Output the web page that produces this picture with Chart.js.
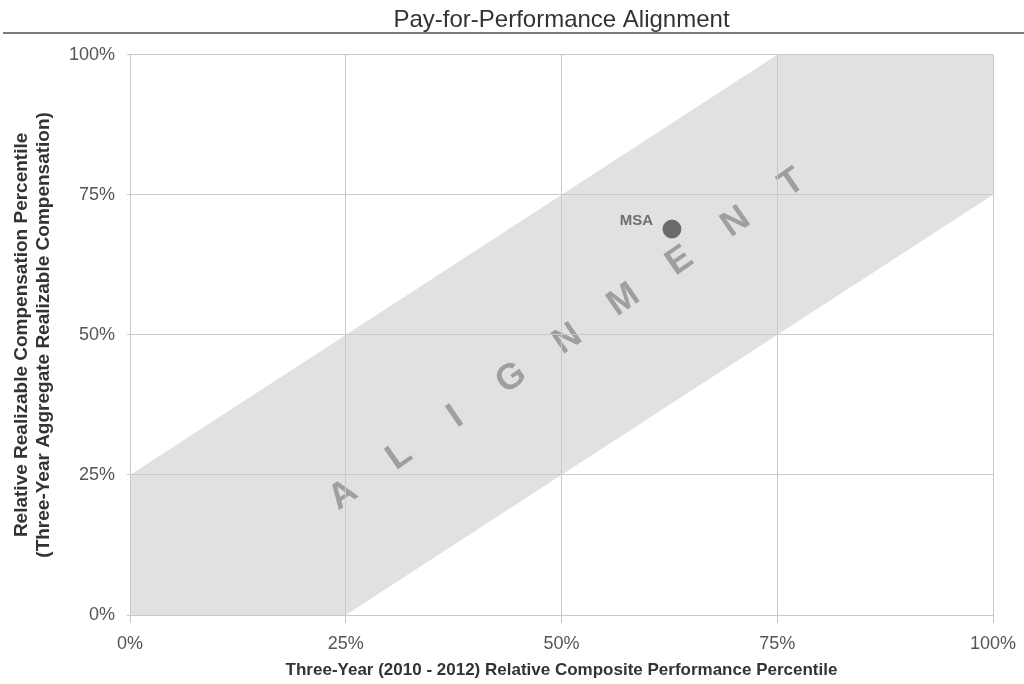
<!DOCTYPE html>
<html>
<head>
<meta charset="utf-8">
<script src="https://cdn.jsdelivr.net/npm/chart.js@4"></script>
<style>
  html, body { margin: 0; padding: 0; background: #fff; }
  #wrap { width: 1024px; height: 684px; }
</style>
</head>
<body>
<div id="wrap"><canvas id="myChart"></canvas></div>
<script>
// band edges and the company point
var bandLowX = [0, 25, 100];
var bandLowY = [0, 0, 75];
var bandHighX = [0, 75, 100];
var bandHighY = [25, 100, 100];
var companyName = "MSA";
var companyX = 62.8;
var companyY = 68.9;
var tickValues = [0, 25, 50, 75, 100];
var bandWord = "ALIGNMENT";
var wordStart = [24.7, 21.4];
var wordEnd = [76.7, 77.1];

var lowPts = bandLowX.map(function (x, i) { return { x: x, y: bandLowY[i] }; });
var highPts = bandHighX.map(function (x, i) { return { x: x, y: bandHighY[i] }; });

var extras = {
  id: "extras",
  afterDatasetsDraw: function (chart) {
    var ctx = chart.ctx;
    var xs = chart.scales.x, ys = chart.scales.y;
    // big rotated word along the band
    var x0 = xs.getPixelForValue(wordStart[0]), y0 = ys.getPixelForValue(wordStart[1]);
    var x1 = xs.getPixelForValue(wordEnd[0]), y1 = ys.getPixelForValue(wordEnd[1]);
    var ang = Math.atan2(y1 - y0, x1 - x0);
    ctx.save();
    ctx.fillStyle = "#9f9fa1";
    ctx.font = "bold 36px 'Liberation Sans', Arial, sans-serif";
    ctx.textAlign = "center";
    ctx.textBaseline = "middle";
    var n = bandWord.length;
    for (var i = 0; i < n; i++) {
      var t = i / (n - 1);
      ctx.save();
      ctx.translate(x0 + (x1 - x0) * t, y0 + (y1 - y0) * t);
      ctx.rotate(ang);
      ctx.fillText(bandWord[i], 0, 0);
      ctx.restore();
    }
    // point label
    var px = xs.getPixelForValue(companyX), py = ys.getPixelForValue(companyY);
    ctx.fillStyle = "#6e6e70";
    ctx.font = "bold 15px 'Liberation Sans', Arial, sans-serif";
    ctx.textAlign = "right";
    ctx.textBaseline = "middle";
    ctx.fillText(companyName, px - 19, py - 8);
    ctx.restore();
  },
  afterDraw: function (chart) {
    var ctx = chart.ctx;
    ctx.save();
    ctx.strokeStyle = "#7a7a7a";
    ctx.lineWidth = 2;
    ctx.beginPath();
    ctx.moveTo(3, 33);
    ctx.lineTo(1024, 33);
    ctx.stroke();
    ctx.restore();
  }
};

new Chart("myChart", {
  type: "scatter",
  data: {
    datasets: [
      {
        label: "low",
        data: lowPts,
        showLine: true,
        borderWidth: 0,
        pointRadius: 0,
        fill: false,
        order: 3
      },
      {
        label: "high",
        data: highPts,
        showLine: true,
        borderWidth: 0,
        pointRadius: 0,
        backgroundColor: "#e1e1e3",
        fill: "-1",
        order: 2
      },
      {
        label: companyName,
        data: [{ x: companyX, y: companyY }],
        pointRadius: 9,
        pointHoverRadius: 9,
        backgroundColor: "#6a6a6c",
        borderColor: "#6a6a6c",
        order: 1
      }
    ]
  },
  options: {
    responsive: true,
    maintainAspectRatio: false,
    animation: false,
    layout: { padding: { left: 0, right: 31, top: 0, bottom: 0 } },
    plugins: {
      legend: { display: false },
      tooltip: { enabled: false },
      title: {
        display: true,
        fullSize: false,
        text: "Pay-for-Performance Alignment",
        color: "#333",
        font: { family: "'Liberation Sans', Arial, sans-serif", size: 24, weight: "normal" },
        padding: { top: 6, bottom: 20 }
      }
    },
    scales: {
      x: {
        type: "linear",
        min: 0,
        max: 100,
        afterBuildTicks: function (s) { s.ticks = tickValues.map(function (v) { return { value: v }; }); },
        afterFit: function (s) { s.height = 69; s.paddingRight = 0; s.paddingLeft = 0; },
        grid: { color: "#c9c9c9", lineWidth: 1, tickLength: 8, drawTicks: true, z: 1 },
        border: { color: "#c9c9c9", z: 1 },
        ticks: {
          color: "#555",
          padding: 10,
          font: { family: "'Liberation Sans', Arial, sans-serif", size: 18 },
          callback: function (v) { return v + "%"; }
        },
        title: {
          display: true,
          text: "Three-Year (2010 - 2012) Relative Composite Performance Percentile",
          color: "#333",
          font: { family: "'Liberation Sans', Arial, sans-serif", size: 17, weight: "bold" },
          padding: { top: 4, bottom: 3 }
        }
      },
      y: {
        type: "linear",
        min: 0,
        max: 100,
        afterBuildTicks: function (s) { s.ticks = tickValues.map(function (v) { return { value: v }; }); },
        afterFit: function (s) { s.width = 130; },
        grid: { color: "#c9c9c9", lineWidth: 1, tickLength: 3, z: 1 },
        border: { color: "#c9c9c9", z: 1 },
        ticks: {
          color: "#555",
          padding: 12,
          font: { family: "'Liberation Sans', Arial, sans-serif", size: 18 },
          callback: function (v) { return v + "%"; }
        },
        title: {
          display: true,
          text: ["Relative Realizable Compensation Percentile", "(Three-Year Aggregate Realizable Compensation)"],
          color: "#333",
          font: { family: "'Liberation Sans', Arial, sans-serif", size: 19, weight: "bold", lineHeight: 1.15 },
          padding: { top: 11, bottom: 0 }
        }
      }
    }
  },
  plugins: [extras]
});
</script>
</body>
</html>
